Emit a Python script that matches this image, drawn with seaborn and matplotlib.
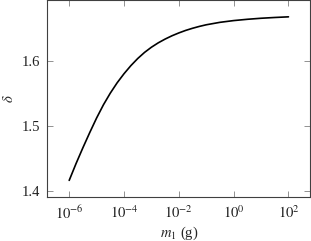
import numpy as np
import pandas as pd
import matplotlib
matplotlib.use('Agg')
import matplotlib.pyplot as plt
import seaborn as sns

# values (x as log10 of mass in grams)
log_m1 = [-6.0, -5.75, -5.5, -5.25, -5.0, -4.75, -4.5, -4.25, -4.0,
          -3.75, -3.5, -3.25, -3.0, -2.75, -2.5, -2.25, -2.0,
          -1.75, -1.5, -1.25, -1.0, -0.5, 0.0, 0.5, 1.0, 1.5, 2.0]
delta = [1.416, 1.442, 1.4665, 1.490, 1.5125, 1.533, 1.551, 1.567, 1.581,
         1.5935, 1.6045, 1.614, 1.622, 1.6288, 1.6346, 1.6397, 1.6441,
         1.648, 1.6513, 1.6542, 1.6567, 1.6605, 1.6632, 1.6652, 1.6668, 1.668, 1.669]
xticks = [1e-6, 1e-4, 1e-2, 1e0, 1e2]
yticks = [1.4, 1.5, 1.6]

df = pd.DataFrame({'m1': np.power(10.0, log_m1), 'delta': delta})

sns.set_style('ticks')
plt.rcParams['font.family'] = ['Liberation Serif', 'DejaVu Serif']
plt.rcParams['mathtext.fontset'] = 'stix'

fig = plt.figure(figsize=(3.11, 2.41), dpi=100)
ax = fig.add_axes([0.152, 0.181, 0.846, 0.817])

sns.lineplot(data=df, x='m1', y='delta', color='black', linewidth=1.2, ax=ax)

ax.set_xscale('log')
ax.set_xlim(10 ** -6.8, 10 ** 2.8)
ax.set_ylim(1.3897, 1.6943)
ax.set_xticks(xticks)
ax.set_xticklabels([r'$10^{%d}$' % int(np.log10(t)) for t in xticks])
ax.xaxis.set_minor_locator(matplotlib.ticker.NullLocator())
ax.set_yticks(yticks)
ax.set_yticklabels(['1.4', '1.5', '1.6'])

ax.tick_params(direction='in', length=4, width=0.6, color='#808080',
               top=True, right=True, labelsize=10.5, pad=5, labelcolor='#202020')
for s in ax.spines.values():
    s.set_color('#404040')
    s.set_linewidth(0.8)

ax.set_xlabel(r'$m_1$ (g)', fontsize=10.5, labelpad=2)
ax.set_ylabel(r'$\delta$', fontsize=10.5, labelpad=4)

fig.savefig('out.png', dpi=100)
